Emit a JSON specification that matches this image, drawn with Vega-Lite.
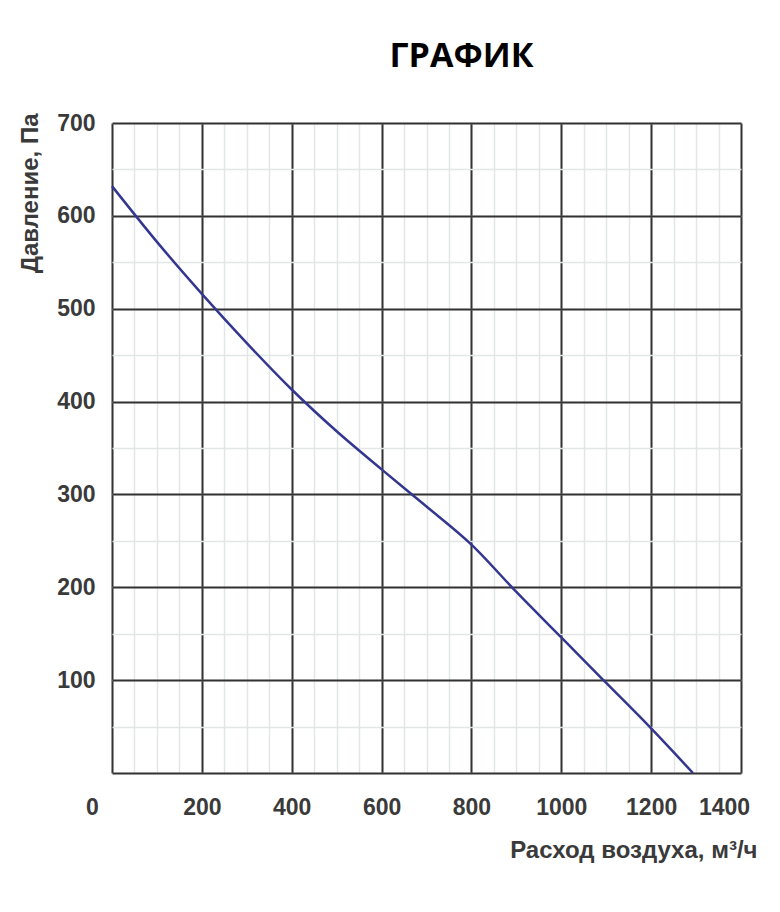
{
  "$schema": "https://vega.github.io/schema/vega-lite/v6.json",
  "autosize": {"type": "none"},
  "width": 629,
  "height": 650,
  "padding": {"left": 112, "top": 123, "right": 39, "bottom": 139},
  "background": "white",
  "title": {
    "text": "ГРАФИК",
    "font": "Open Sans",
    "fontWeight": "bold",
    "fontSize": 34,
    "color": "#000000",
    "anchor": "middle",
    "frame": "group",
    "dx": 35,
    "offset": 38
  },
  "config": {"view": {"stroke": null}},
  "data": {
    "values": [
      {"flow": 0, "pressure": 632},
      {"flow": 100, "pressure": 572},
      {"flow": 200, "pressure": 516},
      {"flow": 300, "pressure": 463},
      {"flow": 400, "pressure": 413},
      {"flow": 500, "pressure": 368},
      {"flow": 600, "pressure": 327},
      {"flow": 700, "pressure": 287},
      {"flow": 800, "pressure": 246},
      {"flow": 900, "pressure": 195},
      {"flow": 1000, "pressure": 146},
      {"flow": 1100, "pressure": 97},
      {"flow": 1200, "pressure": 48},
      {"flow": 1293, "pressure": 0}
    ]
  },
  "layer": [
    {
      "mark": {"type": "line", "opacity": 0},
      "encoding": {
        "x": {
          "field": "flow", "type": "quantitative",
          "scale": {"domain": [0, 1400], "nice": false, "zero": false},
          "axis": {
            "orient": "bottom",
            "values": [0,50,100,150,200,250,300,350,400,450,500,550,600,650,700,750,800,850,900,950,1000,1050,1100,1150,1200,1250,1300,1350,1400],
            "grid": true, "gridColor": "#e3e6e6", "gridWidth": 1.5,
            "labels": false, "ticks": false, "domain": false, "title": null
          }
        },
        "y": {
          "field": "pressure", "type": "quantitative",
          "scale": {"domain": [0, 700], "nice": false, "zero": false},
          "axis": {
            "orient": "left",
            "values": [0,50,100,150,200,250,300,350,400,450,500,550,600,650,700],
            "grid": true, "gridColor": "#e3e6e6", "gridWidth": 1.5,
            "labels": false, "ticks": false, "domain": false, "title": null
          }
        }
      }
    },
    {
      "mark": {"type": "line", "color": "#33378f", "strokeWidth": 2.5, "interpolate": "monotone"},
      "encoding": {
        "x": {
          "field": "flow", "type": "quantitative",
          "scale": {"domain": [0, 1400], "nice": false, "zero": false},
          "axis": {
            "orient": "bottom",
            "values": [0,200,400,600,800,1000,1200,1400],
            "format": "d",
            "grid": true, "gridColor": "#333333", "gridWidth": 2,
            "ticks": false, "domain": false,
            "labelFlush": false, "labelOverlap": false,
            "labelFont": "Liberation Sans", "labelFontWeight": "bold",
            "labelFontSize": 23, "labelColor": "#3a3a3a",
            "labelPadding": 23,
            "labelOffset": {"condition": [{"test": "datum.value == 0", "value": -20}, {"test": "datum.value == 1400", "value": -17}], "value": 0},
            "title": "Расход воздуха, м³/ч",
            "titleFont": "Liberation Sans", "titleFontWeight": "bold",
            "titleFontSize": 24, "titleColor": "#3a3a3a",
            "titleAnchor": "end", "titleAlign": "right", "titleBaseline": "middle",
            "titleX": 645, "titleY": 77
          }
        },
        "y": {
          "field": "pressure", "type": "quantitative",
          "scale": {"domain": [0, 700], "nice": false, "zero": false},
          "axis": {
            "orient": "left",
            "values": [0,100,200,300,400,500,600,700],
            "grid": true, "gridColor": "#333333", "gridWidth": 2,
            "ticks": false, "domain": false,
            "labelExpr": "datum.value == 0 ? '' : datum.label",
            "labelFont": "Liberation Sans", "labelFontWeight": "bold",
            "labelFontSize": 23, "labelColor": "#3a3a3a",
            "labelPadding": 17,
            "title": "Давление, Па",
            "titleFont": "Liberation Sans", "titleFontWeight": "bold",
            "titleFontSize": 24, "titleColor": "#3a3a3a",
            "titleAngle": -90, "titleAlign": "right", "titleBaseline": "middle",
            "titleX": -82, "titleY": -10
          }
        }
      }
    }
  ],
  "resolve": {"axis": {"x": "independent", "y": "independent"}}
}
